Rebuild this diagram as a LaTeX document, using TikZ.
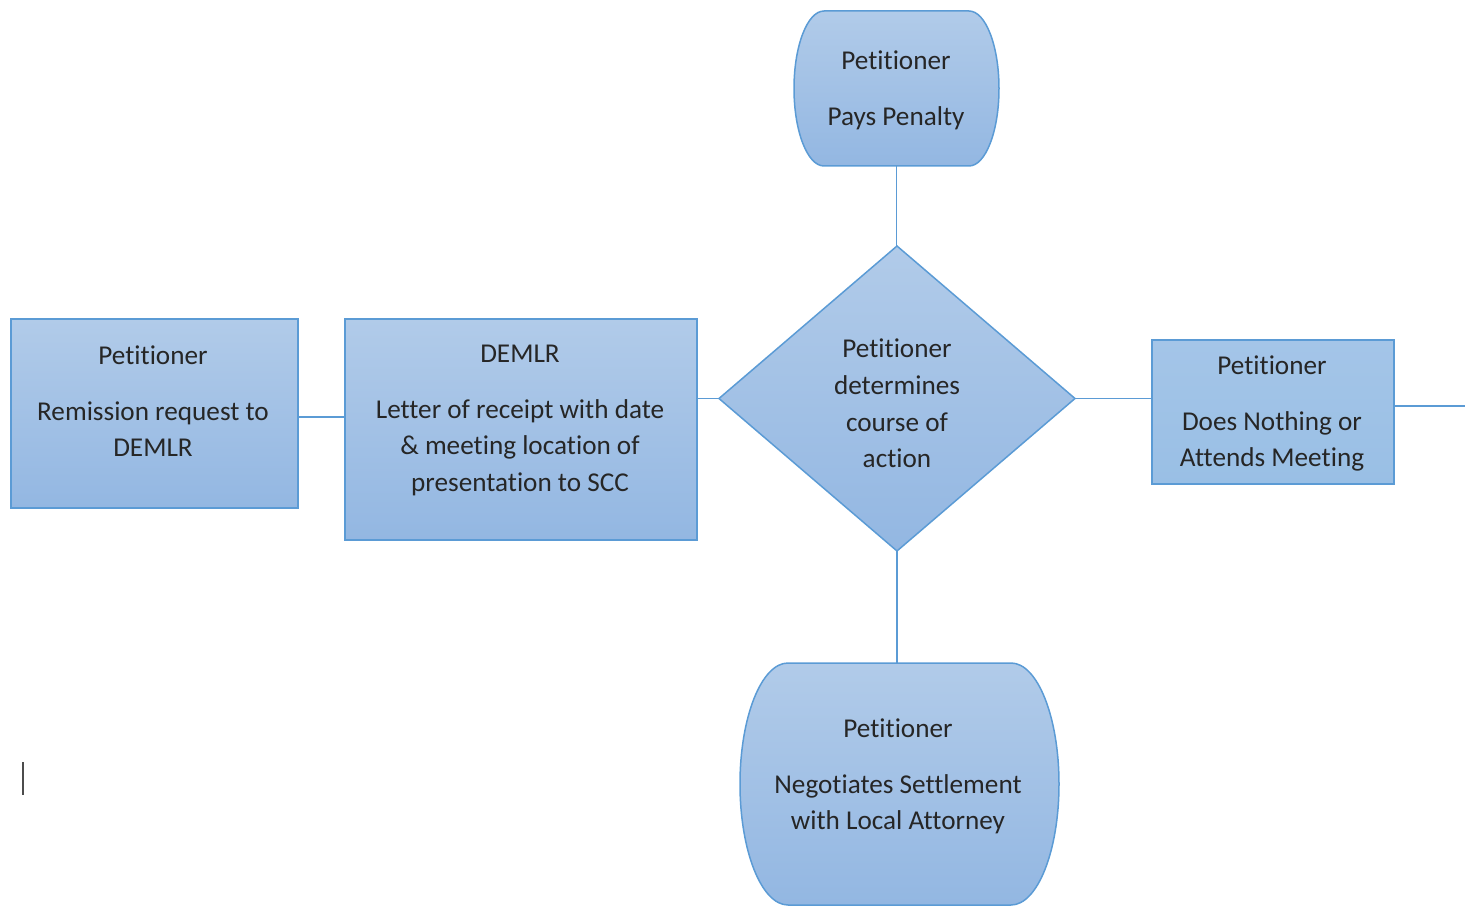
\documentclass[tikz,border=0pt]{standalone}
\usepackage{fontspec}
\setmainfont{Carlito}[Ligatures={NoCommon,NoContextual,NoRequired}]
\usetikzlibrary{shapes.geometric,calc}
\definecolor{fillTop}{HTML}{B1CBE9}
\definecolor{fillBot}{HTML}{93B7E2}
\definecolor{flatTop}{HTML}{A4C5E8}
\definecolor{flatBot}{HTML}{99BFE5}
\definecolor{edge}{HTML}{5B9BD5}
\definecolor{ink}{HTML}{262626}
\tikzset{
  shp/.style={draw=edge, line width=0.75pt, top color=fillTop, bottom color=fillBot, inner sep=0pt, outer sep=0pt},
  boxshape/.style={shp, rectangle},
  flatbox/.style={draw=edge, line width=0.75pt, top color=flatTop, bottom color=flatBot, rectangle, inner sep=0pt, outer sep=0pt},
  dshape/.style={shp, diamond},
  termframe/.style={rectangle, draw=none, inner sep=0pt, outer sep=0pt},
  termfill/.style={draw=edge, line width=0.75pt, top color=fillTop, bottom color=fillBot},
  txt/.style={align=center, text=ink, inner sep=0pt, font=\fontsize{13.6}{18.3}\selectfont},
  conn/.style={draw=edge, line width=0.75pt},
}
\begin{document}
\begin{tikzpicture}[x=0.5pt, y=-0.5pt]
\useasboundingbox (0,0) rectangle (1469,909);
% shapes
\node[boxshape, minimum width=143.5pt, minimum height=94.5pt] (b1) at (154.5,413.5) {};
\node[boxshape, minimum width=176pt, minimum height=110.5pt] (b2) at (521,429.5) {};
\node[dshape, minimum width=178pt, minimum height=152.5pt] (d) at (897,398.5) {};
\node[flatbox, minimum width=121pt, minimum height=72pt] (b3) at (1273,412) {};
\node[termframe, minimum width=102.5pt, minimum height=77.5pt] (tt) at (896.5,88.5) {};
\node[termframe, minimum width=159.5pt, minimum height=121pt] (bt) at (899.5,784) {};
\path[termfill] ($(tt.north west)+(30,0)$) -- ($(tt.north east)+(-30,0)$)
  arc[start angle=90, end angle=-90, x radius=15pt, y radius=38.75pt]
  -- ($(tt.south west)+(30,0)$)
  arc[start angle=270, end angle=90, x radius=15pt, y radius=38.75pt] -- cycle;
\path[termfill] ($(bt.north west)+(48,0)$) -- ($(bt.north east)+(-48,0)$)
  arc[start angle=90, end angle=-90, x radius=24pt, y radius=60.5pt]
  -- ($(bt.south west)+(48,0)$)
  arc[start angle=270, end angle=90, x radius=24pt, y radius=60.5pt] -- cycle;
% texts
\node[txt] (t1) at (153,403.5) {\strut Petitioner\\[9.5pt]\strut Remission request to\\\strut DEMLR};
\node[txt] (t2) at (520,419.5) {\strut DEMLR\\[9.5pt]\strut Letter of receipt with date\\\strut \& meeting location of\\\strut presentation to SCC};
\node[txt] (td) at (897,405.5) {\strut Petitioner\\\strut determines\\\strut course of\\\strut action};
\node[txt] (t3) at (1272,413.5) {\strut Petitioner\\[9.5pt]\strut Does Nothing or\\\strut Attends Meeting};
\node[txt] (ttt) at (896,90) {\strut Petitioner\\[9.5pt]\strut Pays Penalty};
\node[txt] (tbt) at (898,776.5) {\strut Petitioner\\[9.5pt]\strut Negotiates Settlement\\\strut with Local Attorney};
% connectors
\coordinate (free) at (1465,406);
\draw[conn] ($(b1.east)+(0,3.5)$) -- ($(b2.west)+(0,-12.5)$);
\draw[conn] (d.west) -- (d.west -| b2.east);
\draw[conn] (d.east) -- (d.east -| b3.west);
\draw[conn] ($(b3.east)+(0,-6)$) -- (free);
\draw[conn] (tt.south) -- (tt.south |- d.north);
\draw[conn] (d.south) -- (d.south |- bt.north);
% text cursor mark
\draw[line width=1pt, draw=black!70] (23,762) -- (23,795);
\end{tikzpicture}
\end{document}
